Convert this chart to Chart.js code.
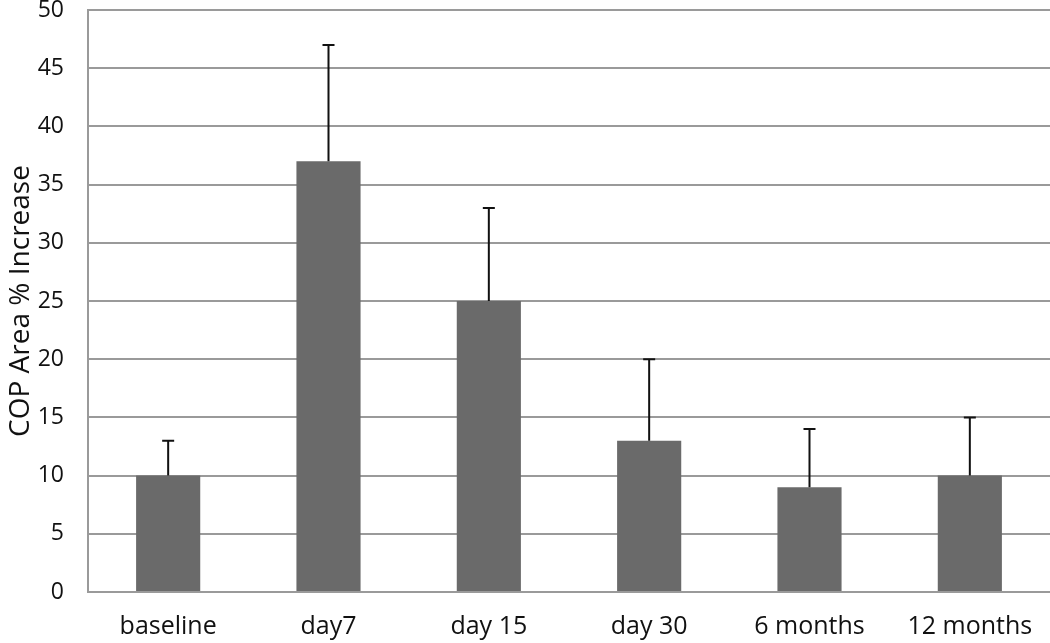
<!DOCTYPE html>
<html>
<head>
<meta charset="utf-8">
<script src="https://cdn.jsdelivr.net/npm/chart.js@4.4.0/dist/chart.umd.min.js"></script>
<style>
html,body{margin:0;padding:0;background:#fff;}
#wrap{width:1050px;height:643px;position:relative;}
</style>
</head>
<body>
<div id="wrap"><canvas id="c" width="1050" height="643"></canvas></div>
<script>
const categories = ["baseline", "day7", "day 15", "day 30", "6 months", "12 months"];
const meanValues = [10, 37, 25, 13, 9, 10];
const errorTops = [13, 47, 33, 20, 14, 15];
const yTicks = [0, 5, 10, 15, 20, 25, 30, 35, 40, 45, 50];
const yTitle = "COP Area % Increase";

const FONT = "'Open Sans', 'Noto Sans', sans-serif";

const errorBarPlugin = {
  id: 'errorBars',
  afterDatasetsDraw(chart) {
    const ctx = chart.ctx;
    const meta = chart.getDatasetMeta(0);
    const y = chart.scales.y;
    ctx.save();
    ctx.strokeStyle = '#111';
    ctx.lineWidth = 2;
    meta.data.forEach((bar, i) => {
      const x = bar.x;
      const yBase = y.getPixelForValue(meanValues[i]);
      const yTop = y.getPixelForValue(errorTops[i]);
      ctx.beginPath();
      ctx.moveTo(x, yBase);
      ctx.lineTo(x, yTop);
      ctx.moveTo(x - 6, yTop);
      ctx.lineTo(x + 6, yTop);
      ctx.stroke();
    });
    ctx.restore();
  }
};

new Chart(document.getElementById('c'), {
  type: 'bar',
  data: {
    labels: categories,
    datasets: [{
      data: meanValues,
      backgroundColor: '#6a6a6a',
      borderWidth: 0,
      barPercentage: 0.4,
      categoryPercentage: 1.0
    }]
  },
  options: {
    responsive: false,
    animation: false,
    devicePixelRatio: 1,
    layout: { padding: { top: 10, right: 0, left: 0, bottom: 0 } },
    plugins: { legend: { display: false }, tooltip: { enabled: false } },
    scales: {
      x: {
        grid: { display: false, drawTicks: false },
        border: { display: true, color: '#9a9a9a', width: 2 },
        ticks: { color: '#111', font: { family: FONT, size: 25 }, padding: 20, maxRotation: 0 },
        afterFit(scale) { scale.height = 51; scale.paddingLeft = 0; scale.paddingRight = 0; }
      },
      y: {
        min: 0, max: 50,
        afterBuildTicks(scale) { scale.ticks = yTicks.map(v => ({ value: v })); },
        grid: { color: '#9a9a9a', lineWidth: 2, drawTicks: false },
        border: { display: true, color: '#9a9a9a', width: 2 },
        ticks: { color: '#111', font: { family: FONT, size: 23 }, padding: 24 },
        title: { display: true, text: yTitle, color: '#111', font: { family: FONT, size: 28 }, padding: { top: 4, bottom: 0 } },
        afterFit(scale) { scale.width = 88; scale.paddingTop = 0; scale.paddingBottom = 0; }
      }
    }
  },
  plugins: [errorBarPlugin]
});
</script>
</body>
</html>
